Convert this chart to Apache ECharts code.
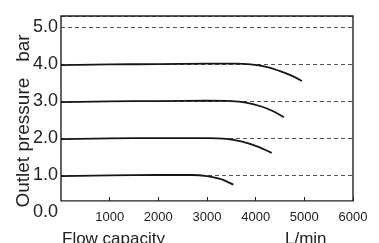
<!DOCTYPE html>
<html>
<head>
<meta charset="utf-8">
<script src="https://cdn.jsdelivr.net/npm/echarts@6/dist/echarts.min.js"></script>
<style>
  html, body { margin: 0; padding: 0; background: #fff; }
  #chart { width: 379px; height: 243px; }
</style>
</head>
<body>
<div id="chart"></div>
<script>
// flow [L/min], outlet pressure [bar]
const curve4 = [[0, 3.97], [1000, 3.99], [2000, 4.0], [3000, 4.01], [3600, 4.01], [3900, 3.99], [4200, 3.93], [4500, 3.81], [4750, 3.68], [4950, 3.54]]
const curve3 = [[0, 2.97], [1000, 2.99], [2000, 3.0], [3000, 3.01], [3500, 3.0], [3800, 2.96], [4100, 2.86], [4350, 2.73], [4580, 2.56]]
const curve2 = [[0, 1.97], [1000, 1.99], [2000, 2.0], [3000, 2.0], [3400, 1.98], [3700, 1.91], [4000, 1.79], [4330, 1.6]]
const curve1 = [[0, 0.97], [1000, 0.99], [2000, 1.0], [2700, 1.0], [3000, 0.97], [3250, 0.9], [3400, 0.83], [3540, 0.74]]
const frameBox = [[0, 0.3], [6000, 5.3]]

const font = "'Liberation Sans', Arial, sans-serif"
const chart = echarts.init(document.getElementById('chart'))

const lineSeries = (data) => ({
  type: 'line',
  data,
  smooth: 0.4,
  symbol: 'none',
  silent: true,
  lineStyle: { color: '#1a1414', width: 1.8 }
})

chart.setOption({
  animation: false,
  grid: { left: 61, right: 26, top: 16, bottom: 31 },
  xAxis: {
    type: 'value',
    min: 0,
    max: 6000,
    interval: 1000,
    offset: -11,
    axisLine: { show: false },
    axisTick: { show: true, inside: true, length: 4, lineStyle: { color: '#222', width: 1 } },
    axisLabel: {
      showMinLabel: false, fontFamily: font, fontSize: 13, color: '#222', margin: 10,
      formatter: v => String(v)
    },
    splitLine: { show: false }
  },
  yAxis: {
    type: 'value',
    min: 0,
    max: 5.3,
    interval: 1,
    axisLine: { show: false },
    axisTick: { show: false },
    axisLabel: {
      fontFamily: font, fontSize: 18, color: '#222', margin: 3,
      formatter: v => v.toFixed(1),
      showMaxLabel: false
    },
    splitLine: {
      show: true,
      showMinLine: false,
      lineStyle: { color: '#555', type: [4, 3], width: 1 }
    }
  },
  graphic: [
    {
      type: 'text', x: 24, y: 121, rotation: Math.PI / 2,
      style: { text: 'Outlet pressure   bar', font: '19px ' + font, fill: '#222', align: 'center', verticalAlign: 'middle' }
    },
    { type: 'text', left: 62, top: 231, style: { text: 'Flow capacity', font: '17px ' + font, fill: '#222' } },
    { type: 'text', left: 285, top: 231, style: { text: 'L/min', font: '17px ' + font, fill: '#222' } }
  ],
  series: [
    {
      type: 'line',
      data: [],
      silent: true,
      markArea: {
        silent: true,
        itemStyle: { color: 'rgba(0,0,0,0)', borderColor: '#222', borderWidth: 1.4 },
        data: [[{ coord: frameBox[0] }, { coord: frameBox[1] }]]
      }
    },
    lineSeries(curve4),
    lineSeries(curve3),
    lineSeries(curve2),
    lineSeries(curve1)
  ]
})
</script>
</body>
</html>
